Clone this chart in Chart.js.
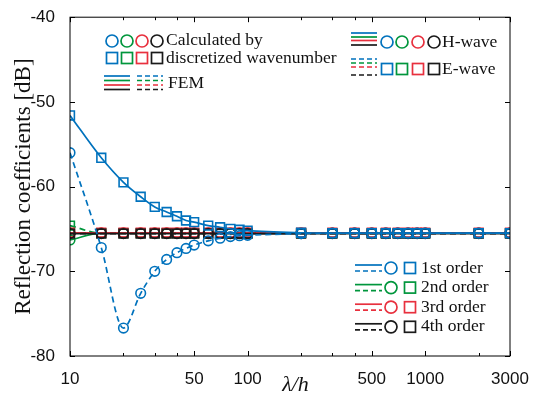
<!DOCTYPE html>
<html>
<head>
<meta charset="utf-8">
<script src="https://cdn.jsdelivr.net/npm/chart.js@4.4.1/dist/chart.umd.min.js"></script>
<style>
  html, body { margin: 0; padding: 0; background: #fff; }
  #wrap { width: 542px; height: 400px; }
</style>
</head>
<body>
<div id="wrap"><canvas id="chart"></canvas></div>
<script>
// lambda/h sample points
const lambdaH = [10, 15, 20, 25, 30, 35, 40, 45, 50, 60, 70, 80, 90, 100,
                 200, 300, 400, 500, 600, 700, 800, 900, 1000, 2000, 3000];

// 1st order
const first_E = [-51.6, -56.6, -59.5, -61.2, -62.4, -63.0, -63.5, -64.0, -64.2, -64.6, -64.8, -65.0, -65.1, -65.2,
                 -65.45, -65.5, -65.5, -65.5, -65.5, -65.5, -65.5, -65.5, -65.5, -65.5, -65.5];
const first_H = [-56.0, -67.2, -76.7, -72.6, -70.0, -68.6, -67.8, -67.3, -66.9, -66.4, -66.1, -65.9, -65.8, -65.75,
                 -65.55, -65.5, -65.5, -65.5, -65.5, -65.5, -65.5, -65.5, -65.5, -65.5, -65.5];
// 2nd order
const second_E = [-64.6, -65.5, -65.5, -65.5, -65.5, -65.5, -65.5, -65.5, -65.5, -65.5, -65.5, -65.5, -65.5, -65.5,
                  -65.5, -65.5, -65.5, -65.5, -65.5, -65.5, -65.5, -65.5, -65.5, -65.5, -65.5];
const second_H = [-66.3, -65.5, -65.5, -65.5, -65.5, -65.5, -65.5, -65.5, -65.5, -65.5, -65.5, -65.5, -65.5, -65.5,
                  -65.5, -65.5, -65.5, -65.5, -65.5, -65.5, -65.5, -65.5, -65.5, -65.5, -65.5];
// 3rd and 4th order
const third = [-65.45, -65.45, -65.45, -65.45, -65.45, -65.45, -65.45, -65.45, -65.45, -65.45, -65.45, -65.45, -65.45, -65.45,
               -65.45, -65.45, -65.45, -65.45, -65.45, -65.45, -65.45, -65.45, -65.45, -65.45, -65.45];
const fourth = [-65.55, -65.55, -65.55, -65.55, -65.55, -65.55, -65.55, -65.55, -65.55, -65.55, -65.55, -65.55, -65.55, -65.55,
                -65.55, -65.55, -65.55, -65.55, -65.55, -65.55, -65.55, -65.55, -65.55, -65.55, -65.55];

const xMajor = [10, 50, 100, 500, 1000, 3000];
const xMinor = [20, 30, 40, 200, 300, 400, 2000];
const yTicks = [-80, -70, -60, -50, -40];

const BLUE = '#0072BD', GREEN = '#00963C', RED = '#E8303E', BLACK = '#1a1a1a';
const SERIF = '"Liberation Serif", "Times New Roman", serif';
const SANS = '"Liberation Sans", Arial, sans-serif';

function pts(ys) { return lambdaH.map((x, i) => ({ x: x, y: ys[i] })); }

function series(ys, color, style, dashed) {
    return {
        data: pts(ys),
        borderColor: color,
        backgroundColor: 'transparent',
        borderWidth: 1.7,
        borderDash: dashed ? [6, 4] : [],
        pointStyle: style,
        pointRadius: style === 'rect' ? 6.2 : 4.8,
        pointBorderColor: color,
        pointBorderWidth: 1.6,
        pointBackgroundColor: 'transparent',
        tension: 0.3,
        cubicInterpolationMode: 'monotone'
    };
}

// box, inward ticks and the three legends
const decor = {
    id: 'decor',
    afterDraw(chart) {
        const ctx = chart.ctx, a = chart.chartArea;
        const xs = chart.scales.x, ys = chart.scales.y;
        ctx.save();
        ctx.strokeStyle = '#000';
        ctx.lineWidth = 1;
        ctx.setLineDash([]);
        ctx.strokeRect(a.left, a.top, a.right - a.left, a.bottom - a.top);
        ctx.beginPath();
        xMajor.concat(xMinor).forEach(v => {
            const px = Math.round(xs.getPixelForValue(v)) + 0.5;
            const len = xMajor.includes(v) ? 5 : 3;
            ctx.moveTo(px, a.bottom); ctx.lineTo(px, a.bottom - len);
            ctx.moveTo(px, a.top); ctx.lineTo(px, a.top + len);
        });
        yTicks.forEach(v => {
            const py = Math.round(ys.getPixelForValue(v)) + 0.5;
            ctx.moveTo(a.left, py); ctx.lineTo(a.left + 5, py);
            ctx.moveTo(a.right, py); ctx.lineTo(a.right - 5, py);
        });
        ctx.stroke();

        const cols = [BLUE, GREEN, RED, BLACK];
        const circle = (x, y, c) => {
            ctx.setLineDash([]); ctx.strokeStyle = c; ctx.lineWidth = 1.7;
            ctx.beginPath(); ctx.arc(x, y, 6, 0, Math.PI * 2); ctx.stroke();
        };
        const square = (x, y, c) => {
            ctx.setLineDash([]); ctx.strokeStyle = c; ctx.lineWidth = 1.7;
            ctx.strokeRect(x - 5.5, y - 5.5, 11, 11);
        };
        const seg = (x1, x2, y, c, dashed) => {
            ctx.setLineDash(dashed ? [5, 3] : []); ctx.strokeStyle = c; ctx.lineWidth = 1.7;
            ctx.beginPath(); ctx.moveTo(x1, y); ctx.lineTo(x2, y); ctx.stroke();
        };
        const text = (s, x, y) => {
            ctx.fillStyle = '#111'; ctx.font = '17.5px ' + SERIF;
            ctx.textAlign = 'left'; ctx.textBaseline = 'middle';
            ctx.fillText(s, x, y);
        };

        // top-left legend
        [112, 127, 142, 157].forEach((x, i) => { circle(x, 41, cols[i]); square(x, 58, cols[i]); });
        text('Calculated by', 166, 40);
        text('discretized wavenumber', 166, 58);
        [76, 80.5, 85, 89.5].forEach((y, i) => { seg(104, 130, y, cols[i], false); seg(137, 163, y, cols[i], true); });
        text('FEM', 168, 83);

        // top-right legend
        [33, 37, 40.5, 45].forEach((y, i) => seg(351, 377, y, cols[i], false));
        [59, 63, 67, 75].forEach((y, i) => seg(351, 377, y, cols[i], true));
        [387, 402, 418, 434].forEach((x, i) => { circle(x, 42, cols[i]); square(x, 69, cols[i]); });
        text('H-wave', 442, 42);
        text('E-wave', 442, 69);

        // bottom-right legend
        ['1st order', '2nd order', '3rd order', '4th order'].forEach((s, i) => {
            const y = 268 + i * 19.6;
            seg(355, 382, y - 3, cols[i], false);
            seg(355, 382, y + 3, cols[i], true);
            circle(391, y, cols[i]);
            square(410, y, cols[i]);
            text(s, 421, y);
        });
        ctx.restore();
    }
};

new Chart(document.getElementById('chart'), {
    type: 'line',
    data: {
        datasets: [
            series(first_E, BLUE, 'rect', false),
            series(first_H, BLUE, 'circle', true),
            series(fourth, BLACK, 'rect', true),
            series(fourth, BLACK, 'circle', false),
            series(third, RED, 'rect', true),
            series(third, RED, 'circle', false),
            series(second_E, GREEN, 'rect', true),
            series(second_H, GREEN, 'circle', false)
        ]
    },
    options: {
        responsive: true,
        maintainAspectRatio: false,
        animation: false,
        layout: { padding: { top: 11, right: 32, left: 0, bottom: 0 } },
        plugins: { legend: { display: false }, tooltip: { enabled: false } },
        scales: {
            x: {
                type: 'logarithmic',
                min: 10,
                max: 3000,
                afterBuildTicks: s => { s.ticks = xMajor.map(v => ({ value: v })); },
                afterFit: s => { s.height = 44; },
                grid: { display: false },
                border: { display: false },
                ticks: {
                    autoSkip: false, maxRotation: 0, padding: 5,
                    color: '#111', font: { family: SANS, size: 17 },
                    callback: v => String(v)
                },
                title: {
                    display: true, text: '\u2002λ/h', color: '#111',
                    font: { family: SERIF, size: 22, style: 'italic' },
                    padding: { top: 0, bottom: 2 }
                }
            },
            y: {
                min: -80,
                max: -40,
                afterBuildTicks: s => { s.ticks = yTicks.map(v => ({ value: v })); },
                afterFit: s => { s.width = 70; },
                grid: { display: false },
                border: { display: false },
                ticks: { padding: 7, color: '#111', font: { family: SANS, size: 17 } },
                title: {
                    display: true, text: 'Reflection coefficients [dB]', color: '#111',
                    font: { family: SERIF, size: 23 },
                    padding: { top: 10, bottom: 0 }
                }
            }
        }
    },
    plugins: [decor]
});
</script>
</body>
</html>
